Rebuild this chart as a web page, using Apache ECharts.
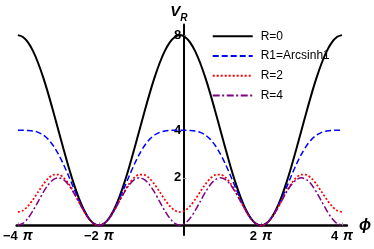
<!DOCTYPE html>
<html>
<head>
<meta charset="utf-8">
<script src="https://cdn.jsdelivr.net/npm/echarts@6/dist/echarts.min.js"></script>
<style>
html,body{margin:0;padding:0;background:#fff;}
#c{width:374px;height:249px;}
</style>
</head>
<body>
<div id="c"></div>
<script>
// phi in units of pi
const phi = [-4,-3.875,-3.75,-3.625,-3.5,-3.375,-3.25,-3.125,-3,-2.875,-2.75,-2.625,-2.5,-2.375,-2.25,-2.125,-2,
  -1.875,-1.75,-1.625,-1.5,-1.375,-1.25,-1.125,-1,-0.875,-0.75,-0.625,-0.5,-0.375,-0.25,-0.125,0,
  0.125,0.25,0.375,0.5,0.625,0.75,0.875,1,1.125,1.25,1.375,1.5,1.625,1.75,1.875,2,
  2.125,2.25,2.375,2.5,2.625,2.75,2.875,3,3.125,3.25,3.375,3.5,3.625,3.75,3.875,4];

const seriesNames = ['R=0', 'R1=Arcsinh1', 'R=2', 'R=4'];

const vR0 = [8,7.923,7.696,7.326,6.828,6.222,5.531,4.780,4,3.220,2.469,1.778,1.172,0.674,0.304,0.077,0,
  0.077,0.304,0.674,1.172,1.778,2.469,3.220,4,4.780,5.531,6.222,6.828,7.326,7.696,7.923,8,
  7.923,7.696,7.326,6.828,6.222,5.531,4.780,4,3.220,2.469,1.778,1.172,0.674,0.304,0.077,0,
  0.077,0.304,0.674,1.172,1.778,2.469,3.220,4,4.780,5.531,6.222,6.828,7.326,7.696,7.923,8];

const vR1 = [4,4.000,3.994,3.971,3.914,3.802,3.619,3.352,3.000,2.572,2.088,1.580,1.086,0.646,0.298,0.077,0,
  0.077,0.298,0.646,1.086,1.580,2.088,2.572,3.000,3.352,3.619,3.802,3.914,3.971,3.994,4.000,4,
  4.000,3.994,3.971,3.914,3.802,3.619,3.352,3.000,2.572,2.088,1.580,1.086,0.646,0.298,0.077,0,
  0.077,0.298,0.646,1.086,1.580,2.088,2.572,3.000,3.352,3.619,3.802,3.914,3.971,3.994,4.000,4];

const vR2 = [0.565,0.630,0.816,1.091,1.411,1.724,1.978,2.125,2.141,2.016,1.761,1.411,1.013,0.621,0.293,0.076,0,
  0.076,0.293,0.621,1.013,1.411,1.761,2.016,2.141,2.125,1.978,1.724,1.411,1.091,0.816,0.630,0.565,
  0.630,0.816,1.091,1.411,1.724,1.978,2.125,2.141,2.016,1.761,1.411,1.013,0.621,0.293,0.076,0,
  0.076,0.293,0.621,1.013,1.411,1.761,2.016,2.141,2.125,1.978,1.724,1.411,1.091,0.816,0.630,0.565];

const vR4 = [0.011,0.087,0.303,0.626,1.007,1.389,1.713,1.927,2.003,1.926,1.708,1.383,1.001,0.617,0.292,0.076,0,
  0.076,0.292,0.617,1.001,1.383,1.708,1.926,2.003,1.927,1.713,1.389,1.007,0.626,0.303,0.087,0.011,
  0.087,0.303,0.626,1.007,1.389,1.713,1.927,2.003,1.926,1.708,1.383,1.001,0.617,0.292,0.076,0,
  0.076,0.292,0.617,1.001,1.383,1.708,1.926,2.003,1.927,1.713,1.389,1.007,0.626,0.303,0.087,0.011];

const xTickValues = [-4, -2, 2, 4];
const xTickLabels = ['−4', '−2', '2', '4'];
const yTickValues = [2, 4, 8];

const pairs = v => phi.map((p, i) => [p, v[i]]);

const chart = echarts.init(document.getElementById('c'), null, {renderer: 'canvas'});
const FONT = 'Liberation Sans';

const styles = [
  {color: '#000000', width: 2, type: 'solid'},
  {color: '#0000ff', width: 1.5, type: [6, 3]},
  {color: '#ff0000', width: 1.7, type: [2, 2]},
  {color: '#800080', width: 1.5, type: [7, 2.5, 2, 2.5]}
];
const allData = [vR0, vR1, vR2, vR4];

// plot frame: x from -4.03pi to 4.12pi, y from -0.4 to 8.45
const gridLeft = 14.76, gridWidth = 336.9, gridTop = 24.4, gridHeight = 210.6;

chart.setOption({
  animation: false,
  backgroundColor: '#ffffff',
  grid: {left: gridLeft, width: gridWidth, top: gridTop, height: gridHeight, containLabel: false},
  legend: {
    orient: 'vertical',
    left: 206.7,
    top: 25.3,
    itemWidth: 40,
    itemHeight: 14,
    itemGap: 7.7,
    itemStyle: {opacity: 0},
    textStyle: {fontFamily: FONT, fontSize: 12, color: '#000', padding: [0, 0, 0, 3]},
    data: seriesNames
  },
  xAxis: {
    type: 'value',
    min: -4.03,
    max: 4.12,
    offset: -9.5,
    name: 'ϕ',
    nameLocation: 'end',
    nameGap: 11,
    nameTextStyle: {fontFamily: FONT, fontSize: 16, fontWeight: 'bold', fontStyle: 'italic', color: '#000', verticalAlign: 'middle'},
    axisLine: {onZero: false, lineStyle: {color: '#000', width: 2.5}},
    axisTick: {show: true, inside: true, length: 3, customValues: xTickValues, lineStyle: {color: '#999', width: 1}},
    axisLabel: {
      customValues: xTickValues,
      margin: 4,
      formatter: v => {
        const i = xTickValues.indexOf(v);
        return '{n|' + xTickLabels[i] + '}{s| }{p|π}';
      },
      rich: {
        n: {fontFamily: FONT, fontSize: 13, fontWeight: 'bold', color: '#000'},
        s: {fontFamily: FONT, fontSize: 13, width: 5},
        p: {fontFamily: FONT, fontSize: 14, fontWeight: 'bold', fontStyle: 'italic', color: '#000'}
      }
    },
    splitLine: {show: false}
  },
  yAxis: {
    type: 'value',
    min: -0.4,
    max: 8.45,
    offset: -166.6,
    name: '{v|V}{r|R}',
    nameLocation: 'end',
    nameGap: 1,
    nameTextStyle: {
      padding: [0, 9, 0, 0],
      rich: {
        v: {fontFamily: FONT, fontSize: 15, fontWeight: 'bold', fontStyle: 'italic', color: '#000', verticalAlign: 'top', lineHeight: 19},
        r: {fontFamily: FONT, fontSize: 10, fontWeight: 'bold', fontStyle: 'italic', color: '#000', verticalAlign: 'bottom', lineHeight: 19}
      }
    },
    axisLine: {onZero: false, lineStyle: {color: '#000', width: 2}},
    axisTick: {show: true, inside: true, length: 3, customValues: yTickValues, lineStyle: {color: '#999', width: 1}},
    axisLabel: {
      customValues: yTickValues,
      margin: 2,
      fontFamily: FONT,
      fontSize: 13,
      fontWeight: 'bold',
      color: '#000'
    },
    splitLine: {show: false}
  },
  series: seriesNames.map((name, i) => ({
    name: name,
    type: 'line',
    data: pairs(allData[i]),
    smooth: 0.3,
    symbol: 'none',
    showSymbol: false,
    clip: false,
    color: styles[i].color,
    lineStyle: {color: styles[i].color, width: styles[i].width, type: styles[i].type}
  }))
});
</script>
</body>
</html>
